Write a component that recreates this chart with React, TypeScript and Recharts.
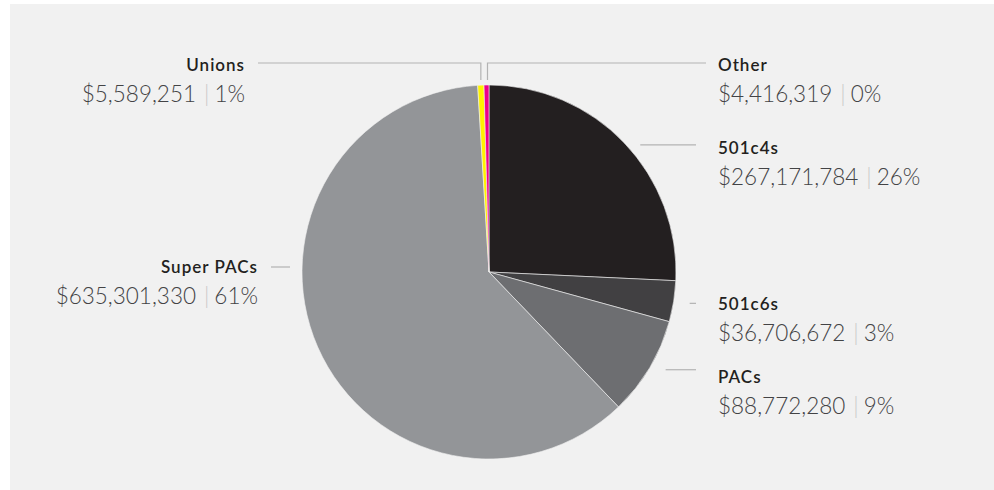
import React from "react";
import { PieChart, Pie, Cell } from "recharts";

const categories = ["501c4s", "501c6s", "PACs", "Super PACs", "Unions", "Other"];
const amounts = [267171784, 36706672, 88772280, 635301330, 5589251, 4416319];
const shareLabels = ["26%", "3%", "9%", "61%", "1%", "0%"];
const colors = ["#231f20", "#414042", "#6d6e71", "#939598", "#fff200", "#ec008c"];

const data = categories.map((name, i) => ({ name, value: amounts[i], share: shareLabels[i] }));

// where each label sits relative to its slice
const placement: Record<string, "right" | "left" | "topLeft" | "topRight"> = {
  "501c4s": "right",
  "501c6s": "right",
  PACs: "right",
  "Super PACs": "left",
  Unions: "topLeft",
  Other: "topRight",
};
// small vertical nudges for the text block (px)
const textNudge: Record<string, number> = { "501c4s": 1, "501c6s": -1, PACs: 5 };

const RADIAN = Math.PI / 180;
const lineColor = "#b3b3b3";

const nameStyle = {
  fontFamily: "Lato, 'Open Sans', sans-serif",
  fontSize: 17,
  fontWeight: 600,
  letterSpacing: 1,
  fill: "#231f20",
};

const valueStyle = {
  fontFamily: "Lato, 'Open Sans', sans-serif",
  fontSize: 22.5,
  fontWeight: 300,
  fill: "#434345",
};

const money = (v: number) => "$" + v.toLocaleString("en-US");

const renderLabel = (props: any) => {
  const { cx, cy, midAngle, outerRadius, index } = props;
  const item = data[index];
  const r = outerRadius;
  const px = cx + Math.cos(-midAngle * RADIAN) * r;
  const py = cy + Math.sin(-midAngle * RADIAN) * r;
  const mode = placement[item.name];

  let path = "";
  let tx = 0;
  let nameY = 0;
  let anchor: "start" | "end" = "start";

  if (mode === "right") {
    const ly = py + 2;
    path = `M${px + 16},${ly}H${cx + r + 20}`;
    tx = cx + r + 42;
    nameY = ly + 8;
  } else if (mode === "left") {
    const ly = cy - 5;
    path = `M${cx - r - 31},${ly}H${cx - r - 12}`;
    tx = cx - r - 44;
    nameY = ly + 6;
    anchor = "end";
  } else {
    const top = cy - r - 22;
    const bottom = cy - r - 5;
    if (mode === "topLeft") {
      path = `M${px},${bottom}V${top}H${cx - r - 44}`;
      tx = cx - r - 57;
      anchor = "end";
    } else {
      path = `M${px + 1},${bottom}V${top}H${cx + r + 30}`;
      tx = cx + r + 42;
    }
    nameY = top + 8;
  }
  nameY += textNudge[item.name] ?? 0;

  return (
    <g key={`label-${index}`}>
      <path d={path} stroke={lineColor} strokeWidth={1.2} fill="none" />
      <text x={tx} y={nameY} textAnchor={anchor} style={nameStyle}>
        {item.name}
      </text>
      <text x={tx} y={nameY + 31} textAnchor={anchor} style={valueStyle}>
        <tspan>{money(item.value)}</tspan>
        <tspan dx={8} fill="#c8c8c8">|</tspan>
        <tspan dx={5}>{item.share}</tspan>
      </text>
    </g>
  );
};

export default function App() {
  return (
    <div style={{ position: "relative", width: 994, height: 490 }}>
      <style>{"body{margin:0}"}</style>
      <div
        style={{
          position: "absolute",
          left: 10,
          top: 4,
          right: 0,
          bottom: 0,
          background: "#f1f1f1",
        }}
      />
      <div style={{ position: "absolute", left: 0, top: 0 }}>
        <PieChart width={994} height={490} margin={{ top: 0, right: 0, bottom: 0, left: 0 }}>
          <Pie
            data={data}
            dataKey="value"
            nameKey="name"
            cx={489}
            cy={272}
            outerRadius={187}
            startAngle={90}
            endAngle={-270}
            stroke="#f1f1f1"
            strokeWidth={0.6}
            label={renderLabel}
            labelLine={false}
            isAnimationActive={false}
          >
            {data.map((d, i) => (
              <Cell key={d.name} fill={colors[i]} />
            ))}
          </Pie>
        </PieChart>
      </div>
    </div>
  );
}
